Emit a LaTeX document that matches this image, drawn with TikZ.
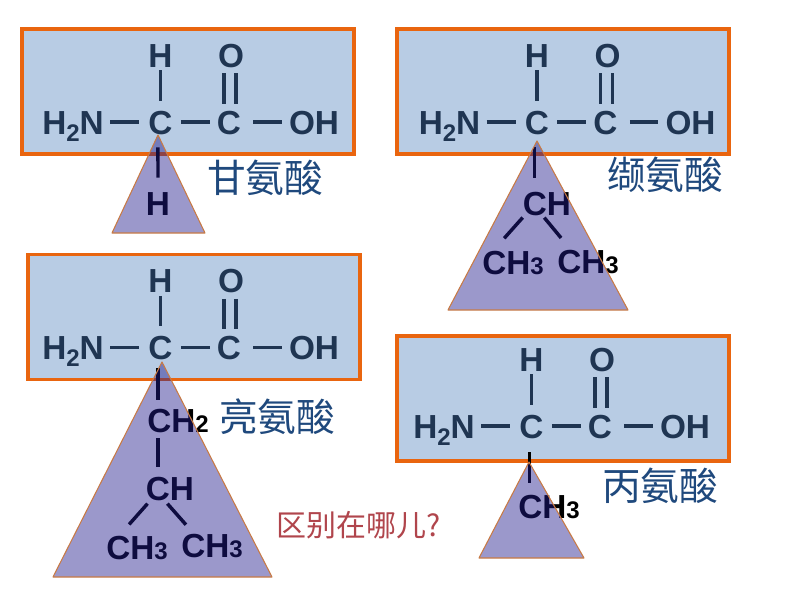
\documentclass[tikz,border=0pt]{standalone}
\usepackage{fontspec}
\setmainfont{Liberation Sans}
\newfontfamily\cjkfont{Noto Sans CJK SC}
\usetikzlibrary{calc}
\definecolor{boxblue}{HTML}{B8CCE4}
\definecolor{boxline}{HTML}{E9650F}
\definecolor{atomblue}{HTML}{1F3552}
\definecolor{trifill}{RGB}{33,27,140}
\definecolor{triline}{HTML}{C87A45}
\definecolor{labelblue}{HTML}{1F497D}
\definecolor{askred}{HTML}{B0454C}
\newcommand{\lowtwo}{\raisebox{-0.22em}{\fontsize{18}{18}\selectfont 2}}
\newcommand{\smalldigit}[1]{{\fontsize{18}{18}\selectfont #1}}
\tikzset{
    atom/.style={inner sep=0pt, text height=18pt, text depth=0pt, font=\fontsize{25}{30}\selectfont\bfseries},
    bond/.style={line width=2.6pt, atomblue},
    sidebond/.style={line width=2.6pt, black},
    namelabel/.style={inner sep=0pt, text=labelblue, font=\cjkfont\fontsize{29}{34}\selectfont},
    sidetri/.style={fill=trifill, fill opacity=0.45, draw=triline, line width=0.8pt, line join=round}
}
\begin{document}
\begin{tikzpicture}[x=0.75pt, y=-0.75pt]
            \useasboundingbox (0,0) rectangle (794,596);
            \foreach \n/\bx/\by/\tx/\ty in {gly/22/29/0/0, val/397/29/376.5/0, leu/28/254.5/0/225.5, ala/397/336/371/304} {
                \draw[boxline, fill=boxblue, line width=2.7pt] (\bx,\by) rectangle (\bx+332,\by+125);
                \begin{scope}[shift={(\tx,\ty)}, every node/.style={atom, text=atomblue}]
                    \node (\n nh) at (73,122) {H\lowtwo N};
                    \node (\n ca) at (160.5,122) {C};
                    \node (\n cb) at (229,122) {C};
                    \node (\n oh) at (314,122) {OH};
                    \node (\n h) at (160.5,55) {H};
                    \node (\n o) at (231,55) {O};
                \end{scope}
                \draw[bond, shorten <=4.5pt, shorten >=6.75pt] (\n nh.east) -- (\n ca.west);
                \draw[bond, shorten <=6pt, shorten >=5.25pt] (\n ca.east) -- (\n cb.west);
                \draw[bond, shorten <=9pt, shorten >=5.25pt] (\n cb.east) -- (\n oh.west);
                \draw[bond, shorten <=2.25pt, shorten >=6.75pt] (\n h.south) -- (\n ca.north);
                \draw[bond, shorten <=4.5pt, shorten >=4.5pt] ([xshift=-5.25pt]\n o.south) -- ([xshift=-5.25pt]\n o.south |- \n cb.north);
                \draw[bond, shorten <=4.5pt, shorten >=4.5pt] ([xshift=3.75pt]\n o.south) -- ([xshift=3.75pt]\n o.south |- \n cb.north);
            }
            \node[atom] (glyr) at (158,203) {H};
            \draw[sidebond, shorten <=9.75pt, shorten >=9.75pt] ([xshift=-1.9pt]glyca.south) -- (glyr.north);
            \node[atom] (valch) at (547,203) {CH};
            \node[atom] (vall) at (513,262) {CH\smalldigit{3}};
            \node[atom] (valm) at (588,261) {CH\smalldigit{3}};
            \draw[sidebond, shorten <=9.75pt, shorten >=9.75pt] ([xshift=-1.7pt]valca.south) -- ([xshift=-1.7pt]valca.south |- valch.north);
            \draw[sidebond, shorten <=2.3pt, shorten >=11.5pt] ([xshift=-16.7pt]valch.south) -- ([xshift=-14.25pt]vall.north);
            \draw[sidebond, shorten <=2.3pt, shorten >=10.5pt] ([xshift=-3.5pt]valch.south) -- ([xshift=-13.5pt]valm.north);
            \node[atom] (leur) at (178,420) {CH\smalldigit{2}};
            \node[atom] (leuch) at (170,488) {CH};
            \node[atom] (leul) at (137,547) {CH\smalldigit{3}};
            \node[atom] (leum) at (212,545) {CH\smalldigit{3}};
            \draw[sidebond, shorten <=6.4pt, shorten >=6pt] ([xshift=-2pt]leuca.south) -- ([xshift=-2pt]leuca.south |- leur.north);
            \draw[sidebond, shorten <=4.5pt, shorten >=6.75pt] ([xshift=-15pt]leur.south) -- ([xshift=-15pt]leur.south |- leuch.north);
            \draw[sidebond, shorten <=3.4pt, shorten >=10.3pt] ([xshift=-14.6pt]leuch.south) -- ([xshift=-12.75pt]leul.north);
            \draw[sidebond, shorten <=3.4pt, shorten >=8pt] ([xshift=-4.2pt]leuch.south) -- ([xshift=-14.25pt]leum.north);
            \node[atom] (alar) at (549,506) {CH\smalldigit{3}};
            \draw[sidebond, shorten <=10.5pt, shorten >=8pt] ([xshift=-1.5pt]alaca.south) -- ([xshift=-1.5pt]alaca.south |- alar.north);
            \draw[sidetri] (158,135) -- (112,233) -- (205,233) -- cycle;
            \draw[sidetri] (537,141) -- (448,310) -- (628,310) -- cycle;
            \draw[sidetri] (162,362) -- (53,577) -- (272,577) -- cycle;
            \draw[sidetri] (529,462) -- (479,558) -- (584,558) -- cycle;
            \node[namelabel] (glyname) at (265,178) {甘氨酸};
            \node[namelabel] (valname) at (665,175) {缬氨酸};
            \node[namelabel] (leuname) at (277,417) {亮氨酸};
            \node[namelabel] (alaname) at (660,486) {丙氨酸};
            \node[namelabel, text=askred, anchor=west, font=\cjkfont\fontsize{22.5}{27}\selectfont] (askname) at (276,525) {区别在哪儿?};
        \end{tikzpicture}
\end{document}
